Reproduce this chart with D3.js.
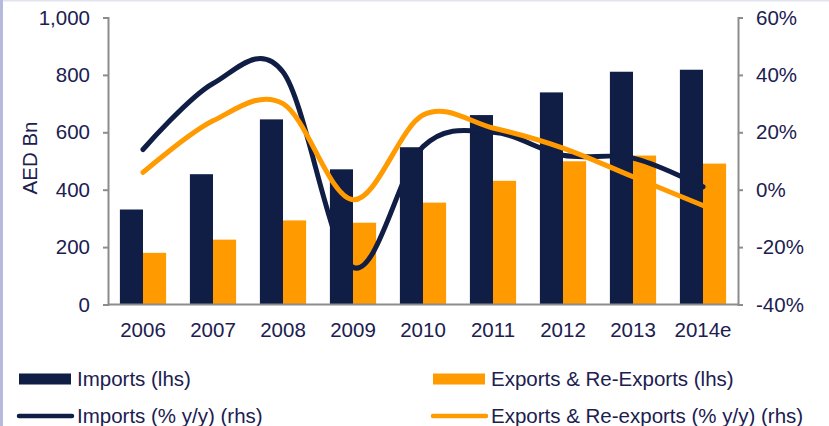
<!DOCTYPE html>
<html>
<head>
<meta charset="utf-8">
<script src="https://cdn.jsdelivr.net/npm/d3@7"></script>
<style>
  body { margin: 0; background: #fff; }
  text { font-family: "Liberation Sans", Arial, sans-serif; fill: #1b2050; }
</style>
</head>
<body>
<div id="container"></div>
<script>
/* CONSTANTS AND GLOBALS */
const width = 829,
    height = 426,
    margin = { top: 17.5, bottom: 121.5, left: 108, right: 91 };

const navy = "#101d45",
    orange = "#ff9a00",
    axisGray = "#8c8c8c";

// DATA
const years = ["2006", "2007", "2008", "2009", "2010", "2011", "2012", "2013", "2014e"];
const imports = [331, 454, 645, 471, 548, 660, 739, 811, 818];
const exports = [180, 226, 293, 285, 355, 431, 499, 519, 491];
const importsYoY = [14, 37, 41, -27, 15, 20, 12, 11, 1];
const exportsYoY = [6, 24, 30, -3.5, 26, 21.5, 14.5, 4.5, -5.5];
const leftTicks = [0, 200, 400, 600, 800, 1000];
const rightTicks = [-40, -20, 0, 20, 40, 60];

// SVG
const svg = d3.select("#container")
    .append("svg")
    .attr("width", width)
    .attr("height", height);

// borders
svg.append("rect").attr("x", 0).attr("y", 0).attr("width", width).attr("height", 1.5).attr("fill", "#e1e4ef");
svg.append("rect").attr("x", 0).attr("y", 0).attr("width", 3).attr("height", height).attr("fill", "#b6badb");

// SCALES
const x = d3.scaleBand()
    .domain(years)
    .range([margin.left, width - margin.right])
    .paddingInner(0.34)
    .paddingOuter(0.17);

const xSub = d3.scaleBand()
    .domain(["imports", "exports"])
    .range([0, x.bandwidth()]);

const yLeft = d3.scaleLinear()
    .domain([0, 1000])
    .range([height - margin.bottom, margin.top]);

const yRight = d3.scaleLinear()
    .domain([-40, 60])
    .range([height - margin.bottom, margin.top]);

// BARS
const groups = svg.selectAll("g.year")
    .data(years)
    .join("g")
    .attr("class", "year")
    .attr("transform", d => `translate(${x(d)},0)`);

groups.append("rect")
    .attr("x", xSub("imports"))
    .attr("width", xSub.bandwidth())
    .attr("y", (d, i) => yLeft(imports[i]))
    .attr("height", (d, i) => yLeft(0) - yLeft(imports[i]))
    .attr("fill", navy);

groups.append("rect")
    .attr("x", xSub("exports"))
    .attr("width", xSub.bandwidth())
    .attr("y", (d, i) => yLeft(exports[i]))
    .attr("height", (d, i) => yLeft(0) - yLeft(exports[i]))
    .attr("fill", orange);

// LINES
const lineGen = d3.line()
    .x((d, i) => x(years[i]) + x.bandwidth() / 2)
    .y(d => yRight(d))
    .curve(d3.curveCardinal.tension(0));

svg.append("path")
    .attr("d", lineGen(importsYoY))
    .attr("fill", "none")
    .attr("stroke", navy)
    .attr("stroke-width", 5)
    .attr("stroke-linecap", "round");

svg.append("path")
    .attr("d", lineGen(exportsYoY))
    .attr("fill", "none")
    .attr("stroke", orange)
    .attr("stroke-width", 5)
    .attr("stroke-linecap", "round");

// AXES
const leftAxis = d3.axisLeft(yLeft)
    .tickValues(leftTicks)
    .tickFormat(d3.format(","))
    .tickSize(5)
    .tickPadding(13);

const rightAxis = d3.axisRight(yRight)
    .tickValues(rightTicks)
    .tickFormat(d => d + "%")
    .tickSize(5)
    .tickPadding(13);

const bottomAxis = d3.axisBottom(x)
    .tickSize(0)
    .tickPadding(18);

function styleAxis(g) {
    g.select(".domain").attr("stroke", axisGray).attr("stroke-width", 2);
    g.selectAll(".tick line").attr("stroke", axisGray).attr("stroke-width", 2);
    g.selectAll(".tick text")
        .attr("font-size", 20.5)
        .attr("fill", "#1b2050")
        .attr("font-family", "Liberation Sans, Arial, sans-serif");
}

svg.append("g")
    .attr("transform", `translate(${margin.left},0)`)
    .call(leftAxis)
    .call(styleAxis);

svg.append("g")
    .attr("transform", `translate(${width - margin.right},0)`)
    .call(rightAxis)
    .call(styleAxis);

svg.append("g")
    .attr("transform", `translate(0,${height - margin.bottom})`)
    .call(bottomAxis)
    .call(g => g.select(".domain").attr("d", `M${margin.left},0H${width - margin.right}`))
    .call(styleAxis);

// AXIS TITLE
svg.append("text")
    .attr("transform", `translate(37,158) rotate(-90)`)
    .attr("text-anchor", "middle")
    .attr("font-size", 20.5)
    .text("AED Bn");

// LEGEND
const legendItems = [
    { label: "Imports (lhs)", color: navy, type: "rect", x: 19, y: 379 },
    { label: "Exports & Re-Exports (lhs)", color: orange, type: "rect", x: 433, y: 379 },
    { label: "Imports (% y/y) (rhs)", color: navy, type: "line", x: 19, y: 416 },
    { label: "Exports & Re-exports (% y/y) (rhs)", color: orange, type: "line", x: 433, y: 416 }
];

const legend = svg.selectAll("g.legend")
    .data(legendItems)
    .join("g")
    .attr("class", "legend")
    .attr("transform", d => `translate(${d.x},${d.y})`);

legend.filter(d => d.type === "rect")
    .append("rect")
    .attr("x", 0)
    .attr("y", -5.5)
    .attr("width", 52)
    .attr("height", 11)
    .attr("fill", d => d.color);

legend.filter(d => d.type === "line")
    .append("line")
    .attr("x1", 0)
    .attr("x2", 53)
    .attr("stroke", d => d.color)
    .attr("stroke-width", 4.5)
    .attr("stroke-linecap", "round");

legend.append("text")
    .attr("x", 58)
    .attr("y", 7)
    .attr("font-size", 20.5)
    .text(d => d.label);
</script>
</body>
</html>
